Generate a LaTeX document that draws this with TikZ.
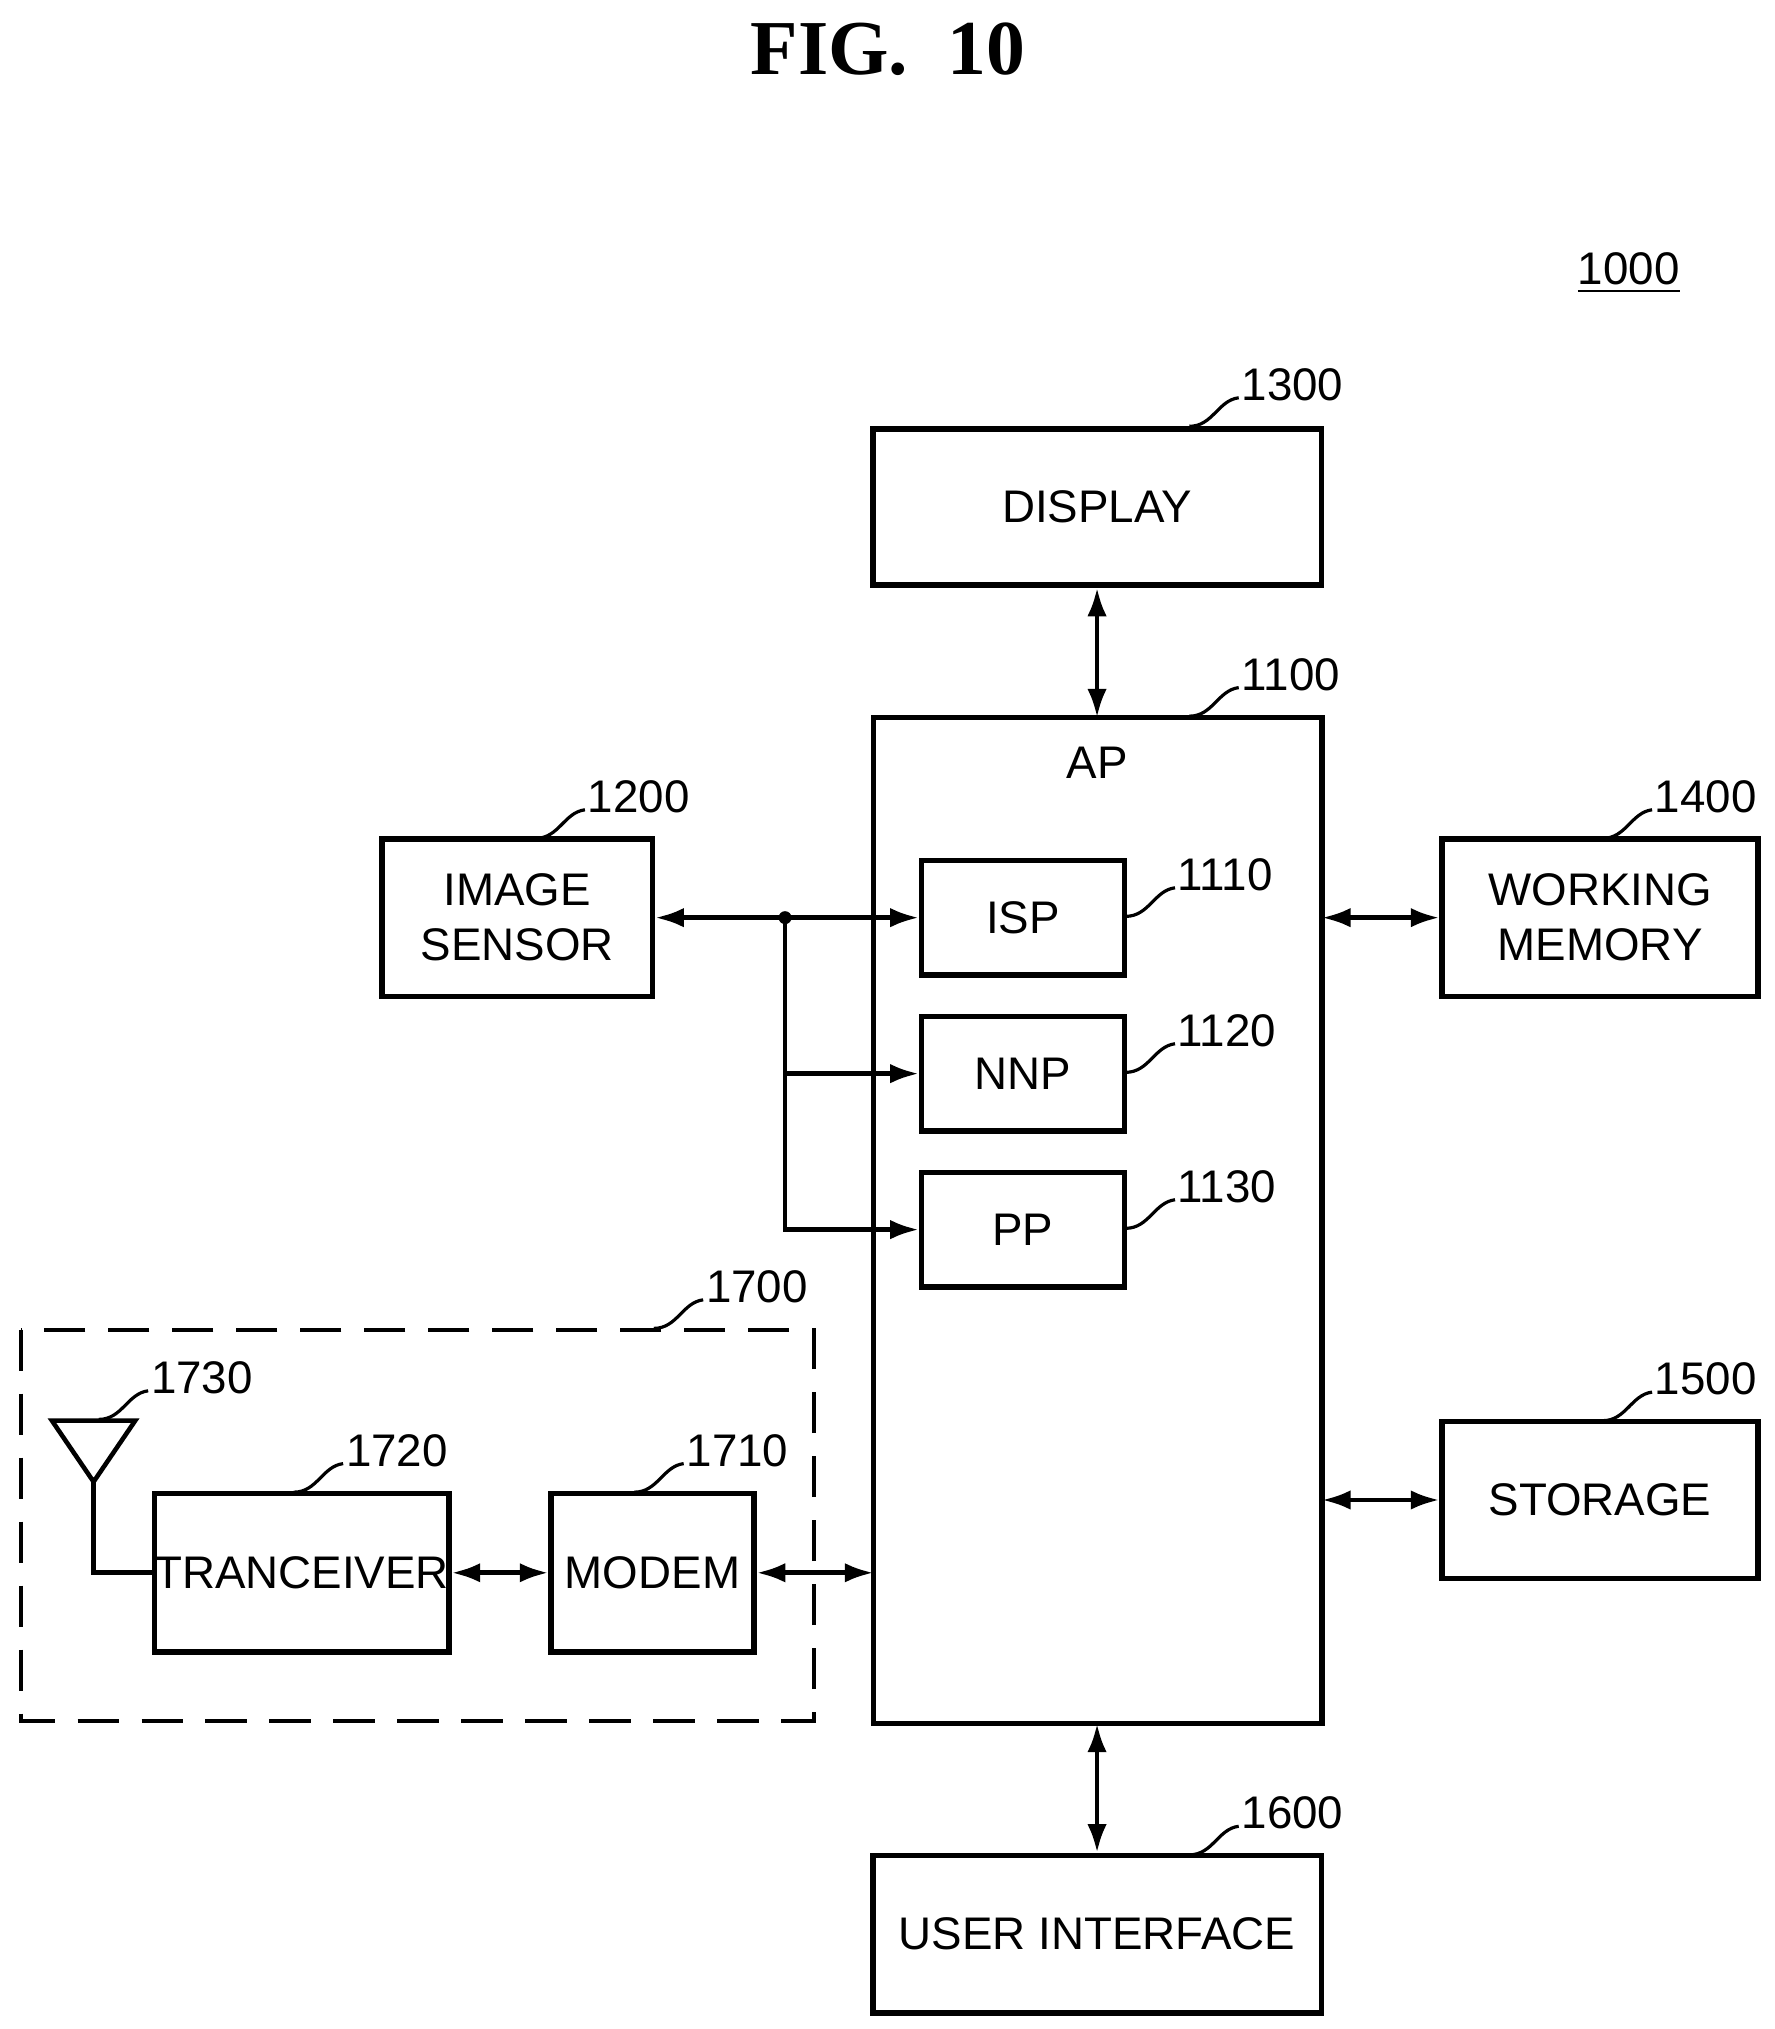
\documentclass[tikz,border=0pt]{standalone}
\usepackage{fontspec}
\setmainfont{Liberation Sans}
\newfontfamily\titlefont{Liberation Serif}
\usetikzlibrary{arrows.meta}

\tikzset{
  blk/.style={draw, line width=1.2pt, inner sep=0pt, align=center,
    font=\fontsize{10}{12}\selectfont},
  link/.style={line width=1pt, {Latex[length=2.2mm,width=1.5mm]}-{Latex[length=2.2mm,width=1.5mm]}},
  feed/.style={line width=1pt, -{Latex[length=2.2mm,width=1.5mm]}},
  refno/.style={anchor=west, inner sep=1pt, font=\fontsize{10}{12}\selectfont}
}
% leader line with reference number
\newcommand{\refmark}[3]{%
  \draw[line width=0.7pt] (#1,#2) .. controls (#1+18,#2) and (#1+22,#2-20) .. (#1+38,#2-22);
  \node[refno] at (#1+36,#2-32) {#3};}

\begin{document}
\begin{tikzpicture}[x=0.01cm, y=-0.01cm]
    \useasboundingbox (0,0) rectangle (1365,1561);

    % Title
    \node (title) at (683,38) {\titlefont\bfseries\fontsize{17}{20}\selectfont FIG.\ \ 10};
    \node (sys) at (1253,210) {\fontsize{10}{12}\selectfont\underline{1000}};

    % Main blocks
    \node[blk, minimum width=345*0.01cm, minimum height=120*0.01cm] (disp) at (844,390) {DISPLAY};

    \draw[line width=1.2pt] (672,552) rectangle (1017,1326);
    \node[font=\fontsize{10}{12}\selectfont] (ap) at (844,587) {AP};
    \coordinate (apt) at (844,552);
    \coordinate (apb) at (844,1326);

    \node[blk, minimum width=156*0.01cm, minimum height=88*0.01cm] (isp) at (787,706) {ISP};
    \node[blk, minimum width=156*0.01cm, minimum height=88*0.01cm] (nnp) at (787,826) {NNP};
    \node[blk, minimum width=156*0.01cm, minimum height=88*0.01cm] (pp) at (787,946) {PP};

    \node[blk, minimum width=208*0.01cm, minimum height=121*0.01cm] (img) at (398,706) {IMAGE\\SENSOR};
    \node[blk, minimum width=243*0.01cm, minimum height=121*0.01cm] (wm) at (1231,706) {WORKING\\MEMORY};
    \node[blk, minimum width=243*0.01cm, minimum height=121*0.01cm] (stor) at (1231,1154) {STORAGE};
    \node[blk, minimum width=345*0.01cm, minimum height=121*0.01cm] (ui) at (844,1488) {USER INTERFACE};

    % Communication block 1700
    \draw[line width=0.9pt, dash pattern=on 9pt off 5pt] (16,1023) rectangle (626,1324);
    \node[blk, minimum width=226*0.01cm, minimum height=122*0.01cm] (trx) at (232,1210) {TRANCEIVER};
    \node[blk, minimum width=156*0.01cm, minimum height=122*0.01cm] (modem) at (502,1210) {MODEM};
    \draw[line width=1pt] (40,1093) -- (104,1093) -- (72,1140) -- cycle;
    \coordinate (ant) at (72,1140);
    \draw[line width=1pt] (ant) |- (trx.west);

    % Connections
    \draw[link] (disp.south) -- (apt);
    \draw[link] (apb) -- (ui.north);
    \draw[link] (1017,706) -- (wm.west);
    \draw[link] (1017,1154) -- (stor.west);
    \draw[link] (trx.east) -- (modem.west);
    \draw[link] (modem.east) -- (672,1210);

    \coordinate (jn) at (604,706);
    \fill (jn) circle (5);
    \draw[line width=1pt, {Latex[length=2.2mm,width=1.5mm]}-] (img.east) -- (jn);
    \draw[feed] (jn) -- (isp.west);
    \draw[feed] (jn) |- (nnp.west);
    \draw[feed] (jn) |- (pp.west);

    % Reference numbers
    \refmark{915}{328}{1300}
    \refmark{915}{551}{1100}
    \refmark{412}{645}{1200}
    \refmark{1233}{645}{1400}
    \refmark{866}{705}{1110}
    \refmark{866}{825}{1120}
    \refmark{866}{945}{1130}
    \refmark{503}{1022}{1700}
    \refmark{76}{1092}{1730}
    \refmark{226}{1148}{1720}
    \refmark{488}{1148}{1710}
    \refmark{1233}{1093}{1500}
    \refmark{915}{1427}{1600}
\end{tikzpicture}
\end{document}
